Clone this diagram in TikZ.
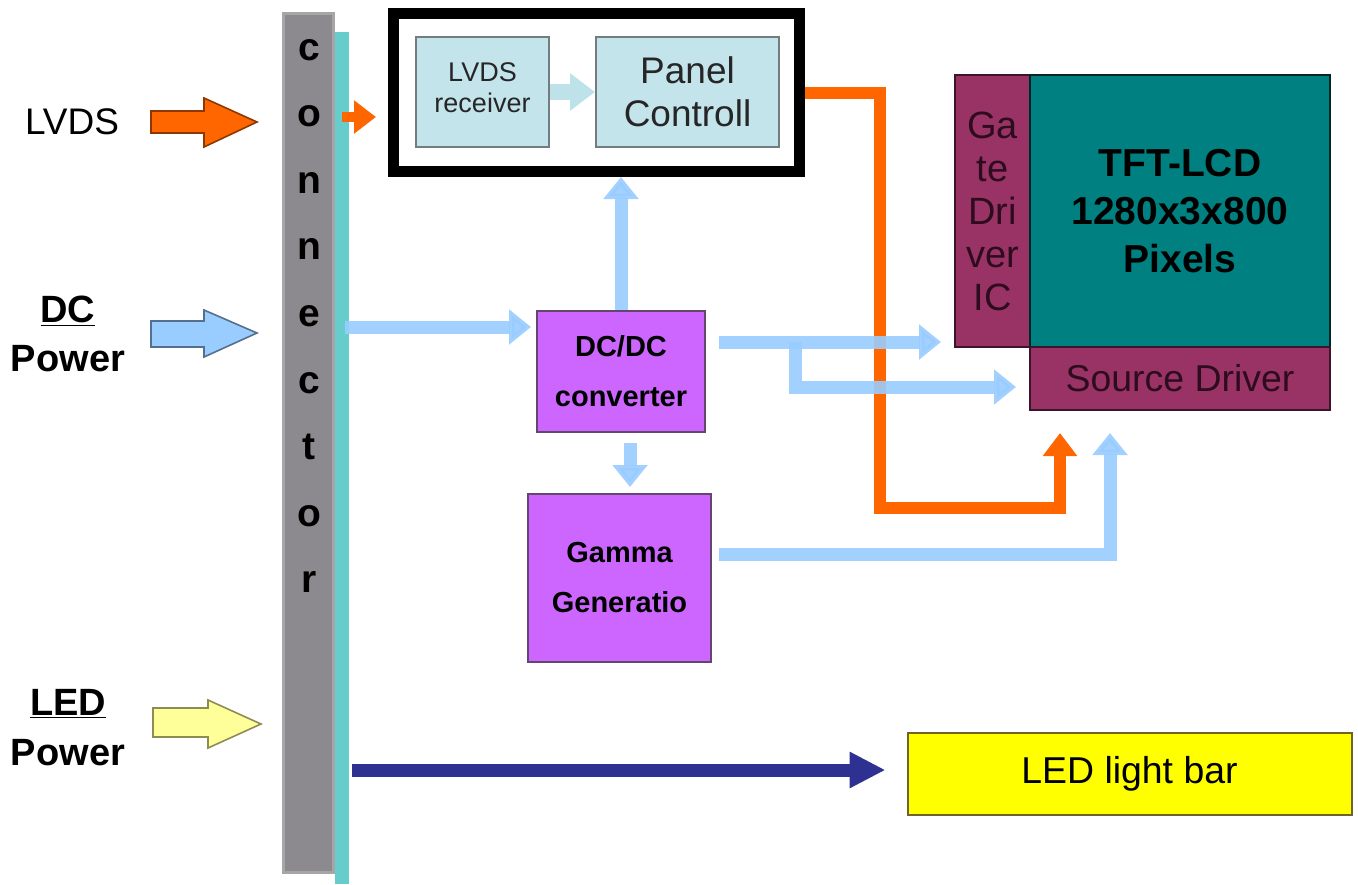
\documentclass[tikz,border=0pt]{standalone}
\usepackage{fontspec}
\setmainfont{Liberation Sans}
\usetikzlibrary{arrows.meta}

\definecolor{lvdsorange}{RGB}{255,102,0}
\definecolor{powerblue}{RGB}{153,204,255}
\definecolor{ledyellow}{RGB}{255,255,153}
\definecolor{barfill}{RGB}{140,138,142}
\definecolor{pinfill}{RGB}{102,204,204}
\definecolor{rxfill}{RGB}{196,228,236}
\definecolor{rxline}{RGB}{115,125,128}
\definecolor{rxarrow}{RGB}{190,226,234}
\definecolor{dcfill}{RGB}{204,102,255}
\definecolor{dcline}{RGB}{100,70,110}
\definecolor{drvfill}{RGB}{153,51,102}
\definecolor{drvtext}{RGB}{45,12,30}
\definecolor{panelteal}{RGB}{0,128,128}
\definecolor{lightbar}{RGB}{255,255,0}
\definecolor{lightbarline}{RGB}{110,100,40}
\definecolor{ledblue}{RGB}{46,49,146}

\newcommand{\fsz}[2]{\fontsize{#1}{#2}\selectfont}

\begin{document}
\begin{tikzpicture}[x=0.5pt,y=-0.5pt,
  blk/.style={draw, rectangle, inner sep=0pt, align=center, line width=1pt},
  rxbox/.style={blk, draw=rxline, fill=rxfill, text=black!85},
  dcbox/.style={blk, draw=dcline, fill=dcfill, font=\bfseries\fsz{14.5}{25}},
  drvbox/.style={blk, draw=black!60!drvfill, fill=drvfill, text=drvtext},
  inarrow/.style={draw=#1!55!black, fill=#1, line width=0.8pt},
  powerline/.style={draw=powerblue, opacity=0.9, line width=6.5pt,
    -{Triangle[width=17pt,length=11pt]}},
  sigline/.style={draw=lvdsorange, line width=6pt,
    -{Triangle[width=16.5pt,length=11.5pt]}},
  sidelabel/.style={font=\bfseries\fsz{19}{22}, anchor=base}]
  \useasboundingbox (0,0) rectangle (1358,884);

  %% connector bar with its pin strip
  \fill[pinfill] (335,32) rectangle (349,884);
  \node[draw=black!35, line width=1.5pt, fill=barfill, minimum width=25pt,
    minimum height=429.5pt, inner sep=0pt] (conn) at (308,442.5) {};
  \foreach \ch [count=\i] in {c,o,n,n,e,c,t,o,r}
    \node[font=\bfseries\fsz{19.5}{20}, anchor=base] (pin\i)
      at (309,{60+66.6*(\i-1)}) {\ch};

  %% inputs on the left
  \draw[inarrow=lvdsorange] (151,111) -- (204,111) -- (204,98) -- (257,122)
    -- (204,147) -- (204,133) -- (151,133) -- cycle;
  \draw[inarrow=powerblue] (151,321) -- (204,321) -- (204,310) -- (257,333)
    -- (204,357) -- (204,347) -- (151,347) -- cycle;
  \draw[inarrow=ledyellow] (153,708) -- (208,708) -- (208,700) -- (261,724)
    -- (208,748) -- (208,737) -- (153,737) -- cycle;
  \node[font=\fsz{18.5}{22}] (lvdslbl) at (72,122) {LVDS};
  \node[sidelabel] (dclbl) at (68,322) {\underline{DC}};
  \node[sidelabel] (dcpwr) at (68,371) {Power};
  \node[sidelabel] (ledlbl) at (68,715) {\underline{LED}};
  \node[sidelabel] (ledpwr) at (68,765) {Power};

  %% timing controller
  \node[draw, line width=5.5pt, minimum width=203pt, minimum height=79pt,
    inner sep=0pt] (tcon) at (596.5,92.5) {};
  \node[rxbox, minimum width=66.5pt, minimum height=55pt,
    font=\fsz{13.5}{15.5}] (lvdsrx) at (482.5,92)
    {\raisebox{4pt}{LVDS}\\\raisebox{4pt}{receiver}};
  \node[rxbox, minimum width=91.5pt, minimum height=55pt,
    font=\fsz{18.5}{21.5}] (panelctl) at (687.5,92) {Panel\\Controll};

  %% power blocks
  \node[dcbox, minimum width=84pt, minimum height=60.5pt] (dcdc)
    at (621,371.5) {DC/DC\\converter};
  \node[dcbox, minimum width=91.5pt, minimum height=84pt] (gamma)
    at (619.5,578) {Gamma\\Generatio};

  %% panel
  \node[drvbox, minimum width=37.5pt, minimum height=136pt,
    font=\fsz{19}{21.5}] (gatedrv) at (992.5,211) {Ga\\te\\Dri\\ver\\IC};
  \node[blk, draw=black!70!panelteal, fill=panelteal, minimum width=150pt,
    minimum height=136pt, font=\bfseries\fsz{19.5}{24}] (tftlcd)
    at (1180,211) {TFT-LCD\\1280x3x800\\Pixels};
  \node[drvbox, minimum width=150pt, minimum height=31.5pt,
    font=\fsz{18.7}{20}] (srcdrv) at (1180,378.5) {Source Driver};
  \node[blk, draw=lightbarline, fill=lightbar, minimum width=222pt,
    minimum height=41pt, font=\fsz{18.7}{20}] (ledbar)
    at (1129.5,774) {LED light bar};

  %% signal path
  \coordinate (lvdsout) at (342,117);
  \draw[draw=lvdsorange, line width=5pt, -{Triangle[width=16pt,length=11pt]},
    shorten >=6pt] (lvdsout) -- (lvdsout -| tcon.west);
  \draw[draw=rxarrow, line width=8pt, -{Triangle[width=18pt,length=12.5pt]}]
    (lvdsrx.east) -- (panelctl.west);
  \coordinate (orbend) at (880,508);
  \draw[sigline, shorten >=11pt] (tcon.east) -| (orbend)
    -| ([xshift=-60pt]srcdrv.south);

  %% power path
  \coordinate (dcin) at (345,327);
  \draw[powerline, shorten >=2.5pt] (dcin) -- (dcin -| dcdc.west);
  \draw[powerline] (dcdc.north) -- (dcdc.north |- tcon.south);
  \draw[powerline, shorten <=5pt, shorten >=3pt] ([xshift=4.5pt]dcdc.south)
    -- ([xshift=4.5pt]dcdc.south |- gamma.north);
  \coordinate (dcout) at ([xshift=6.5pt,yshift=14.75pt]dcdc.east);
  \coordinate (dcsplit) at (795,342);
  \draw[powerline, shorten >=6.5pt] (dcout) -- (dcout -| gatedrv.west);
  \draw[powerline, shorten >=6.5pt] (dcsplit) |- ([yshift=-4.25pt]srcdrv.west);
  \draw[powerline, shorten >=11pt] ([xshift=3.5pt,yshift=12pt]gamma.east)
    -| ([xshift=-35pt]srcdrv.south);

  %% backlight
  \coordinate (ledout) at (352,770);
  \draw[draw=ledblue, line width=6.5pt, -{Triangle[width=17pt,length=18pt]},
    shorten >=10.5pt] (ledout) -- (ledout -| ledbar.west);
\end{tikzpicture}
\end{document}
